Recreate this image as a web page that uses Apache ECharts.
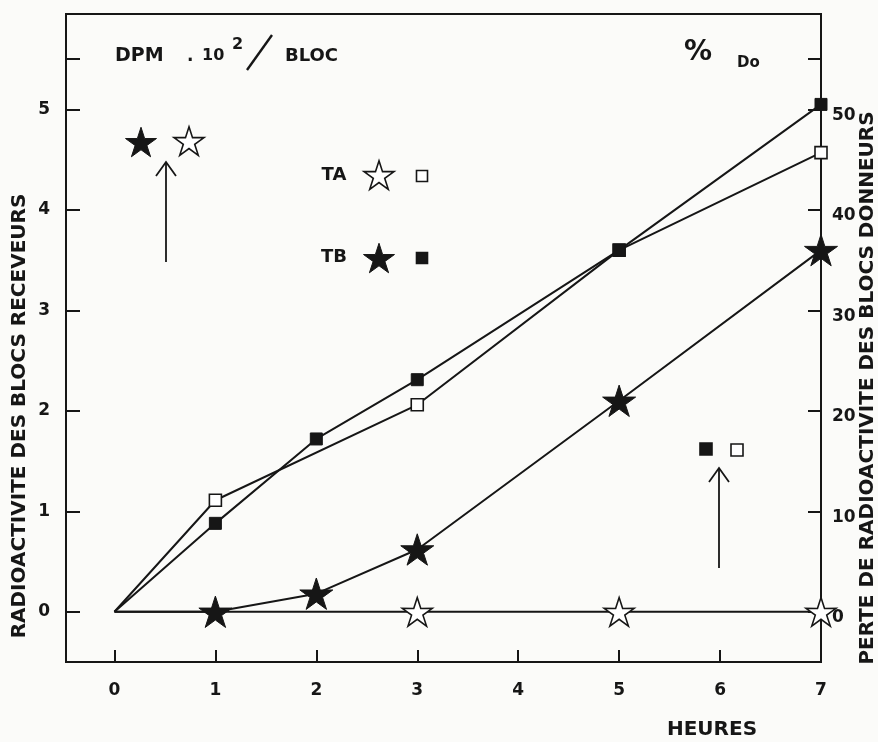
<!DOCTYPE html>
<html>
<head>
<meta charset="utf-8">
<script src="https://cdn.jsdelivr.net/npm/echarts@6/dist/echarts.min.js"></script>
<style>html,body{margin:0;padding:0;background:#fbfbf9;}#c{width:878px;height:742px;}</style>
</head>
<body>
<div id="c"></div>
<script>
// ---- data ----
const xTickValues = [0, 1, 2, 3, 4, 5, 6, 7];
const leftTickLabels = [0, 1, 2, 3, 4, 5];
const leftTickMarks = [0, 1, 2, 3, 4, 5, 5.5];
const rightTickLabels = [0, 10, 20, 30, 40, 50];
const rightTickMarks = [0, 10, 20, 30, 40, 50, 55];

// stars: DPM.10^2/bloc (left axis)
const taStarHours = [0, 3, 5, 7];
const taStarDpm = [0, 0, 0, 0];
const tbStarHours = [0, 1, 2, 3, 5, 7];
const tbStarDpm = [0, 0, 0.18, 0.62, 2.1, 3.6];
// squares: % Do (right axis)
const taSquareHours = [0, 1, 3, 5, 7];
const taSquarePct = [0, 11.1, 20.6, 36, 45.7];
const tbSquareHours = [0, 1, 2, 3, 5, 7];
const tbSquarePct = [0, 8.8, 17.2, 23.1, 36, 50.5];

const STAR = 'M50 0 L61.17 34.63 L97.55 34.55 L68.07 55.87 L79.39 90.45 L50 69 L20.61 90.45 L31.93 55.87 L2.45 34.55 L38.83 34.63 Z';
const STAR_PTS = [[50,0],[61.17,34.63],[97.55,34.55],[68.07,55.87],[79.39,90.45],[50,69],[20.61,90.45],[31.93,55.87],[2.45,34.55],[38.83,34.63]];
const FONT = 'DejaVu Sans';
const INK = '#161616';

function pts(xs, ys) {
  return xs.map((x, i) => (x === 0 && ys[i] === 0) ? { value: [x, ys[i]], symbol: 'none' } : [x, ys[i]]);
}

function starG(cx, cy, w, filled) {
  const k = w / 95.1;
  const points = STAR_PTS.map(p => [cx + (p[0] - 50) * k, cy + (p[1] - 45.2) * k]);
  return { type: 'polygon', shape: { points: points },
    style: { fill: filled ? INK : '#fff', stroke: INK, lineWidth: filled ? 1 : 1.6 }, z: 10 };
}
function squareG(cx, cy, s, filled) {
  return { type: 'rect', shape: { x: cx - s / 2, y: cy - s / 2, width: s, height: s },
    style: { fill: filled ? INK : '#fff', stroke: INK, lineWidth: 1.6 }, z: 10 };
}
function textG(x, y, t, size, align, weight) {
  return { type: 'text', x: x, y: y, style: { text: t, font: (weight || 'bold') + ' ' + size + 'px "' + FONT + '"', fill: INK, align: align || 'left', verticalAlign: 'middle' }, z: 10 };
}
function arrowG(x, yBottom, yTip) {
  return [
    { type: 'line', shape: { x1: x, y1: yBottom, x2: x, y2: yTip }, style: { stroke: INK, lineWidth: 1.8 }, z: 10 },
    { type: 'polyline', shape: { points: [[x - 10, yTip + 14], [x, yTip], [x + 10, yTip + 14]] }, style: { stroke: INK, lineWidth: 1.8, fill: null }, z: 10 }
  ];
}

const chart = echarts.init(document.getElementById('c'), null, { renderer: 'canvas' });

const lineStyle = { color: INK, width: 2 };
const option = {
  backgroundColor: '#fbfbf9',
  animation: false,
  grid: { left: 66, right: 57, top: 14, bottom: 80, show: true, borderColor: INK, borderWidth: 2, backgroundColor: 'transparent' },
  xAxis: {
    type: 'value', min: -0.48, max: 7,
    axisLine: { show: true, onZero: false, lineStyle: { color: INK, width: 2 } },
    axisTick: { show: true, inside: true, length: 12, customValues: xTickValues, lineStyle: { color: INK, width: 2 } },
    axisLabel: { customValues: xTickValues, margin: 20, color: INK, fontFamily: FONT, fontWeight: 'bold', fontSize: 17 },
    splitLine: { show: false }
  },
  yAxis: [
    {
      type: 'value', min: -0.5, max: 5.95, position: 'left',
      axisLine: { show: true, onZero: false, lineStyle: { color: INK, width: 2 } },
      axisTick: { show: true, inside: true, length: 14, customValues: leftTickMarks, lineStyle: { color: INK, width: 2 } },
      axisLabel: { customValues: leftTickLabels, margin: 16, color: INK, fontFamily: FONT, fontWeight: 'bold', fontSize: 17 },
      splitLine: { show: false }
    },
    {
      type: 'value', min: -5, max: 59.5, position: 'right',
      axisLine: { show: true, onZero: false, lineStyle: { color: INK, width: 2 } },
      axisTick: { show: true, inside: true, length: 13, customValues: rightTickMarks, lineStyle: { color: INK, width: 2 } },
      axisLabel: { customValues: rightTickLabels, margin: 11, color: INK, fontFamily: FONT, fontWeight: 'bold', fontSize: 17, verticalAlign: 'top', lineHeight: 12 },
      splitLine: { show: false }
    }
  ],
  series: [
    { name: 'TA stars', type: 'line', yAxisIndex: 0, data: pts(taStarHours, taStarDpm), symbol: 'path://' + STAR, symbolSize: 30, symbolKeepAspect: true,
      lineStyle: lineStyle, itemStyle: { color: '#fff', borderColor: INK, borderWidth: 1.6 }, clip: false, z: 3 },
    { name: 'TB stars', type: 'line', yAxisIndex: 0, data: pts(tbStarHours, tbStarDpm), symbol: 'path://' + STAR, symbolSize: 33, symbolKeepAspect: true,
      lineStyle: lineStyle, itemStyle: { color: INK, borderColor: INK, borderWidth: 1 }, clip: false, z: 4 },
    { name: 'TA squares', type: 'line', yAxisIndex: 1, data: pts(taSquareHours, taSquarePct), symbol: 'rect', symbolSize: 12,
      lineStyle: lineStyle, itemStyle: { color: '#fff', borderColor: INK, borderWidth: 1.6 }, clip: false, z: 3 },
    { name: 'TB squares', type: 'line', yAxisIndex: 1, data: pts(tbSquareHours, tbSquarePct), symbol: 'rect', symbolSize: 12,
      lineStyle: lineStyle, itemStyle: { color: INK, borderColor: INK, borderWidth: 1 }, clip: false, z: 4 }
  ],
  graphic: [
    // header left
    textG(115, 56, 'DPM', 19),
    textG(187, 57, '.', 17),
    textG(202, 56, '10', 16),
    textG(232, 45, '2', 16),
    { type: 'line', shape: { x1: 247, y1: 70, x2: 272, y2: 35 }, style: { stroke: INK, lineWidth: 2.4 }, z: 10 },
    textG(285, 56, 'BLOC', 18),
    // header right
    textG(684, 53, '%', 28, 'left', 'bold'),
    textG(737, 63, 'Do', 15),
    // legend
    textG(334, 175, 'TA', 18, 'center'),
    starG(379, 175, 30, false),
    squareG(422, 176, 11, false),
    textG(334, 257, 'TB', 18, 'center'),
    starG(379, 258, 31, true),
    squareG(422, 258, 11, true),
    // annotation left
    starG(141, 142, 31, true),
    starG(189, 141, 30, false),
    ...arrowG(166, 262, 162),
    // annotation right
    squareG(706, 449, 12, true),
    squareG(737, 450, 12, false),
    ...arrowG(719, 568, 468),
    // axis names
    textG(712, 730, 'HEURES', 20, 'center'),
    { type: 'text', x: 20, y: 416, rotation: Math.PI / 2,
      style: { text: 'RADIOACTIVITE DES BLOCS RECEVEURS', font: 'bold 20px "' + FONT + '"', fill: INK, align: 'center', verticalAlign: 'middle' } },
    { type: 'text', x: 868, y: 388, rotation: Math.PI / 2,
      style: { text: 'PERTE DE RADIOACTIVITE DES BLOCS DONNEURS', font: 'bold 20px "' + FONT + '"', fill: INK, align: 'center', verticalAlign: 'middle' } }
  ]
};
chart.setOption(option);
</script>
</body>
</html>
